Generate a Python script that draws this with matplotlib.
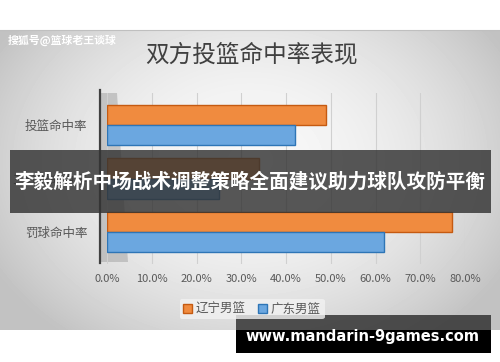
import matplotlib
matplotlib.use("Agg")
import matplotlib.pyplot as plt
from matplotlib.patches import Patch, Rectangle, Polygon
from matplotlib.lines import Line2D
import numpy as np

plt.rcParams["font.family"] = ["Noto Sans CJK SC", "DejaVu Sans"]

categories = ["投篮命中率", "三分球命中率", "罚球命中率"]
liaoning = [49.0, 34.0, 77.0]
guangdong = [42.0, 25.0, 62.0]
series_names = ["辽宁男篮", "广东男篮"]
xticks = [0, 10, 20, 30, 40, 50, 60, 70, 80]

ORANGE = "#F08B3F"
ORANGE_EDGE = "#C55A11"
BLUE = "#6BA7E0"
BLUE_EDGE = "#2E75B6"
GREY_TXT = "#595959"

W, H = 500, 362
fig = plt.figure(figsize=(W / 100, H / 100), dpi=100)


def fx(px):
    return px / W


def fy(py):
    return 1 - py / H


# gradient background of the chart area (y 30..330 px)
bg = fig.add_axes([0, fy(330), 1, (330 - 30) / H])
bg.set_zorder(-5)
yy, xx = np.mgrid[0:300, 0:500]
r = np.sqrt(((xx - 250) / 300.0) ** 2 + ((yy - 130) / 230.0) ** 2)
img = np.clip(0.97 - 0.22 * r ** 2, 0.76, 0.97)
bg.imshow(img, cmap="gray", vmin=0, vmax=1, aspect="auto",
          extent=[0, 500, 300, 0])
bg.set_axis_off()
fig.add_artist(Line2D([0, 1], [fy(30), fy(30)], color="#bfbfbf", lw=0.8))

# 3D wall on the left of the plot (behind the bars)
wall = Polygon([(fx(100), fy(93)), (fx(117), fy(93)),
                (fx(128), fy(262)), (fx(100), fy(262))],
               closed=True, facecolor="#a6a6a6", alpha=0.55,
               edgecolor="none", zorder=-3)
fig.add_artist(wall)
fig.add_artist(Line2D([fx(100), fx(100)], [fy(90), fy(263)],
                      color="#404040", lw=1.6, zorder=-2))

# main plot
ax = fig.add_axes([fx(107), fy(264), fx(465) - fx(107), 171 / H])
ax.set_zorder(1)
ax.set_facecolor("none")
y = np.arange(len(categories))
h = 0.38
ax.barh(y - h / 2, liaoning, height=h, color=ORANGE, edgecolor=ORANGE_EDGE,
        linewidth=1.0, zorder=3)
ax.barh(y + h / 2, guangdong, height=h, color=BLUE, edgecolor=BLUE_EDGE,
        linewidth=1.0, zorder=3)
ax.set_xlim(0, 80)
ax.set_ylim(2.6, -0.6)
ax.set_xticks(xticks)
ax.set_xticklabels([f"{v:.1f}%" for v in xticks])
ax.set_yticks(y)
ax.set_yticklabels(categories)
ax.tick_params(axis="x", length=0, pad=7, labelsize=8, labelcolor=GREY_TXT)
ax.tick_params(axis="y", length=0, pad=14, labelsize=9, labelcolor=GREY_TXT)
for s in ax.spines.values():
    s.set_visible(False)
ax.grid(axis="x", color="#d0d0d0", lw=0.8, zorder=0)

# title
fig.text(fx(251), fy(55), "双方投篮命中率表现", ha="center", va="center",
         fontsize=17, color="#404040")

# legend
handles = [Patch(facecolor=ORANGE, edgecolor=ORANGE_EDGE),
           Patch(facecolor=BLUE, edgecolor=BLUE_EDGE)]
leg = fig.legend(handles, series_names, loc="center",
                 bbox_to_anchor=(fx(252), fy(309)), ncol=2, fontsize=9,
                 frameon=True, handlelength=0.7, handleheight=0.7,
                 handletextpad=0.3, columnspacing=1.0, borderpad=0.3)
leg.get_frame().set_facecolor("#f2f2f2")
leg.get_frame().set_edgecolor("none")
leg.get_frame().set_alpha(0.8)
for t in leg.get_texts():
    t.set_color(GREY_TXT)

# watermark
fig.text(fx(8), fy(40), "搜狐号@篮球老王谈球", ha="left", va="center",
         fontsize=7.8, color="white", weight="bold", zorder=5)

# middle banner
fig.add_artist(Rectangle((fx(10), fy(213)), fx(491) - fx(10), 63 / H,
                         facecolor="#333333", alpha=0.82, edgecolor="none",
                         zorder=4))
fig.text(fx(250), fy(182), "李毅解析中场战术调整策略全面建议助力球队攻防平衡",
         ha="center", va="center", fontsize=14.1, color="white",
         weight="bold", zorder=5)

# bottom banner
fig.add_artist(Rectangle((fx(236), fy(330)), fx(491) - fx(236), 15 / H,
                         facecolor="#333333", alpha=0.85, edgecolor="none",
                         zorder=4))
fig.add_artist(Rectangle((fx(236), fy(353)), fx(491) - fx(236), 23 / H,
                         facecolor="black", edgecolor="none", zorder=4))
fig.text(fx(362), fy(337), "www.mandarin-9games.com", ha="center",
         va="center", fontsize=10.5, color="white", weight="bold",
         family="DejaVu Sans", zorder=5)

fig.savefig("out.png", dpi=100)
